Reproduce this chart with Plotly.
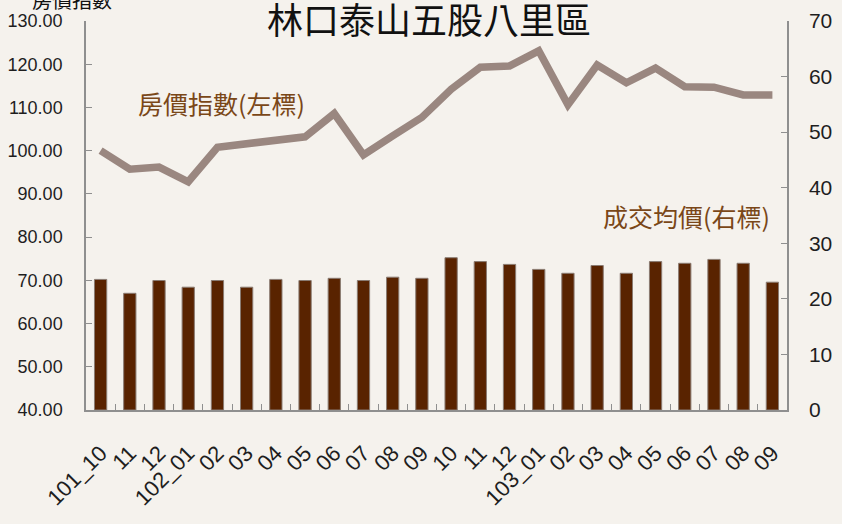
import plotly.graph_objects as go

tick_labels = ["101_10", "11", "12", "102_01", "02", "03", "04", "05", "06", "07", "08", "09",
               "10", "11", "12", "103_01", "02", "03", "04", "05", "06", "07", "08", "09"]
price_index = [100.0, 95.7, 96.2, 92.8, 100.8, 101.6, 102.6, 103.2, 108.6, 99.0, 103.4, 107.7,
               114.2, 119.3, 119.6, 123.1, 110.6, 119.8, 115.7, 119.1, 114.8, 114.7, 112.9, 112.9]
avg_price = [23.5, 21.0, 23.3, 22.1, 23.3, 22.1, 23.5, 23.3, 23.7, 23.3, 23.9, 23.7,
             27.4, 26.7, 26.2, 25.3, 24.6, 26.0, 24.6, 26.7, 26.4, 27.1, 26.4, 23.0]

x = list(range(len(tick_labels)))

num_font = "Liberation Sans, Arial, sans-serif"
cjk_font = "Noto Sans CJK TC, Noto Sans CJK SC, sans-serif"
axis_grey = "#8f8f8f"

fig = go.Figure()
fig.add_trace(go.Bar(
    x=x, y=avg_price, yaxis="y2", width=0.42,
    marker=dict(color="#592300", line=dict(color="#8a7b72", width=1)),
    showlegend=False,
))
fig.add_trace(go.Scatter(
    x=x, y=price_index, yaxis="y", mode="lines",
    line=dict(color="#9a8780", width=7.5),
    showlegend=False,
))

fig.update_layout(
    width=842, height=524,
    margin=dict(l=86, r=55, t=21, b=114, autoexpand=False),
    paper_bgcolor="#f5f2ed", plot_bgcolor="rgba(0,0,0,0)",
    bargap=0.5,
    xaxis=dict(
        range=[-0.5, len(x) - 0.5], tickmode="array", tickvals=x, ticktext=tick_labels,
        tickangle=-45, ticks="", showline=True, linecolor=axis_grey, linewidth=1.5,
        showgrid=False, zeroline=False, ticklabelstandoff=20, automargin=False,
        tickfont=dict(family=num_font, size=22, color="#1e1e1e"),
        minor=dict(tickvals=[i + 0.5 for i in x[:-1]], ticks="inside", ticklen=6,
                   tickcolor=axis_grey, tickwidth=1.2, showgrid=False),
    ),
    yaxis=dict(
        range=[40, 130], dtick=10, tickformat=".2f", ticks="inside", ticklen=6,
        tickcolor=axis_grey, showline=True, linecolor=axis_grey, linewidth=1.5,
        showgrid=False, zeroline=False, ticklabelstandoff=18, automargin=False,
        tickfont=dict(family=num_font, size=18, color="#1e1e1e"),
    ),
    yaxis2=dict(
        range=[0, 70], dtick=10, overlaying="y", side="right", ticks="inside", ticklen=6,
        tickcolor=axis_grey, showline=True, linecolor=axis_grey, linewidth=1.5,
        showgrid=False, zeroline=False, ticklabelstandoff=16, automargin=False,
        tickfont=dict(family=num_font, size=21, color="#1e1e1e"),
    ),
    annotations=[
        dict(text="林口泰山五股八里區", xref="paper", yref="paper", x=0.49, y=1.0, yshift=3,
             xanchor="center", yanchor="middle", showarrow=False,
             font=dict(family=cjk_font, size=36, color="#111111")),
        dict(text="房價指數", xref="paper", yref="paper", x=-0.02, y=1.0, yshift=22,
             xanchor="center", yanchor="middle", showarrow=False,
             font=dict(family=cjk_font, size=20, color="#111111")),
        dict(text="房價指數(左標)", xref="paper", yref="paper", x=0.194, y=0.79,
             xanchor="center", yanchor="middle", showarrow=False,
             font=dict(family=cjk_font, size=25, color="#7a4718")),
        dict(text="成交均價(右標)", xref="paper", yref="paper", x=0.856, y=0.498,
             xanchor="center", yanchor="middle", showarrow=False,
             font=dict(family=cjk_font, size=25, color="#7a4718")),
    ],
)

fig.write_html("out.html", config={"displayModeBar": False},
               post_script="document.body.style.margin='0';document.body.style.overflow='hidden';")
